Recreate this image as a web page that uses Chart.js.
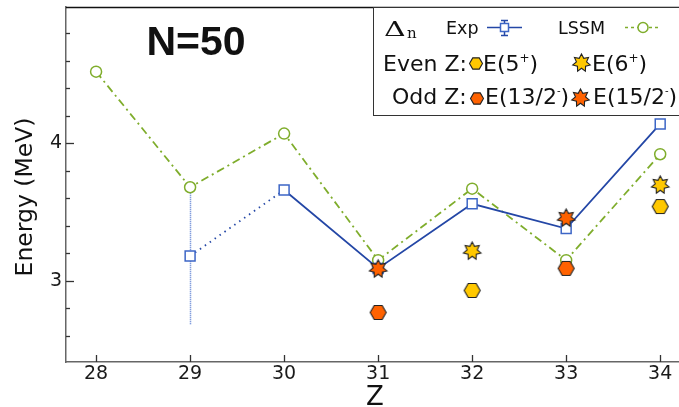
<!DOCTYPE html>
<html>
<head>
<meta charset="utf-8">
<script src="https://cdn.jsdelivr.net/npm/chart.js@4.4.1/dist/chart.umd.min.js"></script>
<style>
  html, body { margin: 0; padding: 0; background: #fff; }
  #wrap { width: 679px; height: 407px; }
</style>
</head>
<body>
<div id="wrap"><canvas id="chart" width="679" height="407"></canvas></div>
<script>
// N=50 isotones: shell gap and high-spin levels vs proton number
var zValues = [28, 29, 30, 31, 32, 33, 34];
var lssmGap = [4.52, 3.68, 4.07, 3.15, 3.67, 3.15, 3.92];
var expZ = [29, 30, 31, 32, 33, 34];
var expGap = [3.18, 3.66, 3.09, 3.56, 3.38, 4.14];
var expErr = [0.50, 0, 0, 0, 0, 0];
var evenZ = [32, 34];
var e5plus = [2.93, 3.54];
var e6plus = [3.22, 3.70];
var oddZ = [31, 33];
var e13half = [2.77, 3.09];
var e15half = [3.09, 3.46];
var yTickValues = [2.6, 2.8, 3.0, 3.2, 3.4, 3.6, 3.8, 4.0, 4.2, 4.4, 4.6, 4.8];

var GREEN = '#7fad2c';
var BLUE = '#2447a6';
var BLUE_MARK = '#3d66c6';
var GOLD = '#ffc800';
var ORANGE = '#ff6200';

function pairs(xs, ys) {
  return xs.map(function (x, i) { return { x: x, y: ys[i] }; });
}

// hexagon marker, flat top and bottom
function makeHexagon(fill, r) {
  var c = document.createElement('canvas');
  c.width = Math.ceil(2 * r + 3);
  c.height = Math.ceil(r * Math.sqrt(3) + 3);
  var g = c.getContext('2d');
  g.beginPath();
  for (var k = 0; k < 6; k++) {
    var a = k * Math.PI / 3;
    var px = c.width / 2 + r * Math.cos(a);
    var py = c.height / 2 + r * Math.sin(a);
    if (k) g.lineTo(px, py); else g.moveTo(px, py);
  }
  g.closePath();
  g.fillStyle = fill;
  g.fill();
  g.strokeStyle = '#222';
  g.lineWidth = 1.1;
  g.stroke();
  return c;
}

// seven pointed star marker
function makeStar(fill, ro, ri) {
  var c = document.createElement('canvas');
  c.width = c.height = Math.ceil(2 * ro + 3);
  var g = c.getContext('2d');
  var n = 7;
  g.beginPath();
  for (var k = 0; k < 2 * n; k++) {
    var a = -Math.PI / 2 + k * Math.PI / n;
    var rr = k % 2 ? ri : ro;
    var px = c.width / 2 + rr * Math.cos(a);
    var py = c.height / 2 + 0.5 + rr * Math.sin(a);
    if (k) g.lineTo(px, py); else g.moveTo(px, py);
  }
  g.closePath();
  g.fillStyle = fill;
  g.fill();
  g.strokeStyle = '#222';
  g.lineWidth = 1.1;
  g.stroke();
  return c;
}

var hexGold = makeHexagon(GOLD, 8);
var hexOrange = makeHexagon(ORANGE, 8);
var starGold = makeStar(GOLD, 9, 5.2);
var starOrange = makeStar(ORANGE, 9, 5.2);
var hexGoldSmall = makeHexagon(GOLD, 6.5);
var hexOrangeSmall = makeHexagon(ORANGE, 6.5);

// text with a raised piece in the middle, e.g. E(5+)
function supText(ctx, x, y, base, sup, tail, font, supFont, rise) {
  ctx.font = font;
  ctx.fillText(base, x, y);
  x += ctx.measureText(base).width;
  ctx.font = supFont;
  ctx.fillText(sup, x, y - rise);
  x += ctx.measureText(sup).width;
  ctx.font = font;
  ctx.fillText(tail, x, y);
}

function drawImg(ctx, img, x, y) {
  ctx.drawImage(img, Math.round(x - img.width / 2), Math.round(y - img.height / 2));
}

var decorPlugin = {
  id: 'decor',
  beforeDatasetsDraw: function (chart) {
    var ctx = chart.ctx, xs = chart.scales.x, ys = chart.scales.y;
    ctx.save();
    ctx.strokeStyle = '#5a7ed2';
    ctx.lineWidth = 1.5;
    ctx.setLineDash([1, 1]);
    expZ.forEach(function (z, i) {
      if (!expErr[i]) return;
      var px = Math.round(xs.getPixelForValue(z)) + 0.5;
      ctx.beginPath();
      ctx.moveTo(px, ys.getPixelForValue(expGap[i] + expErr[i]));
      ctx.lineTo(px, ys.getPixelForValue(expGap[i] - expErr[i]));
      ctx.stroke();
    });
    ctx.restore();
  },
  afterDraw: function (chart) {
    var ctx = chart.ctx, xs = chart.scales.x, ys = chart.scales.y;
    var area = chart.chartArea;
    ctx.save();

    // inward tick marks
    ctx.strokeStyle = '#333';
    ctx.lineWidth = 1.3;
    yTickValues.forEach(function (v) {
      var py = Math.round(ys.getPixelForValue(v)) + 0.5;
      var len = Math.abs(v - Math.round(v)) < 1e-6 ? 8 : 4;
      ctx.beginPath();
      ctx.moveTo(area.left, py);
      ctx.lineTo(area.left + len, py);
      ctx.stroke();
    });
    zValues.forEach(function (z) {
      var px = Math.round(xs.getPixelForValue(z)) + 0.5;
      ctx.beginPath();
      ctx.moveTo(px, area.bottom);
      ctx.lineTo(px, area.bottom - 7);
      ctx.stroke();
    });

    // top frame
    ctx.strokeStyle = '#111';
    ctx.lineWidth = 1.5;
    ctx.beginPath();
    ctx.moveTo(area.left, area.top + 0.5);
    ctx.lineTo(area.right, area.top + 0.5);
    ctx.stroke();

    // axis titles
    ctx.fillStyle = '#111';
    ctx.font = '23.5px "DejaVu Sans"';
    ctx.textAlign = 'center';
    ctx.textBaseline = 'alphabetic';
    ctx.save();
    ctx.translate(32, 197);
    ctx.rotate(-Math.PI / 2);
    ctx.fillText('Energy (MeV)', 0, 0);
    ctx.restore();
    ctx.font = '26px "DejaVu Sans"';
    ctx.fillText('Z', 375, 405);

    // panel label
    ctx.font = 'bold 41px "Liberation Sans"';
    ctx.fillText('N=50', 196, 55);

    // legend box
    ctx.textAlign = 'left';
    ctx.fillStyle = '#fff';
    ctx.fillRect(373, 7, 306, 108);
    ctx.strokeStyle = '#333';
    ctx.lineWidth = 1;
    ctx.strokeRect(373.5, 7.5, 310, 108);

    ctx.fillStyle = '#111';
    ctx.save();
    ctx.translate(384, 36);
    ctx.scale(1.5, 1);
    ctx.font = '20px "DejaVu Serif"';
    ctx.fillText('\u0394', 0, 0);
    ctx.restore();
    ctx.font = '15px "DejaVu Serif"';
    ctx.fillText('n', 407, 38);

    ctx.font = '17.5px "DejaVu Sans"';
    ctx.fillText('Exp', 446, 33.5);
    ctx.fillText('LSSM', 558, 33.5);

    // Exp key: line, error bar, square
    ctx.strokeStyle = BLUE;
    ctx.lineWidth = 1.5;
    ctx.beginPath();
    ctx.moveTo(487, 27.5); ctx.lineTo(522, 27.5);
    ctx.moveTo(504.5, 20); ctx.lineTo(504.5, 36);
    ctx.moveTo(501, 20.5); ctx.lineTo(508, 20.5);
    ctx.moveTo(501, 35.5); ctx.lineTo(508, 35.5);
    ctx.stroke();
    ctx.fillStyle = '#fff';
    ctx.fillRect(500, 23, 9, 9);
    ctx.strokeStyle = BLUE_MARK;
    ctx.strokeRect(500.5, 23.5, 8, 8);

    // LSSM key
    ctx.strokeStyle = GREEN;
    ctx.lineWidth = 1.5;
    ctx.setLineDash([3, 3]);
    ctx.beginPath();
    ctx.moveTo(625, 27.5); ctx.lineTo(660, 27.5);
    ctx.stroke();
    ctx.setLineDash([]);
    ctx.beginPath();
    ctx.arc(643, 27.5, 5, 0, Math.PI * 2);
    ctx.fillStyle = '#fff';
    ctx.fill();
    ctx.stroke();

    ctx.fillStyle = '#111';
    var f = '22px "DejaVu Sans"', fs = '12px "DejaVu Sans"', fm = '10px "DejaVu Sans"';
    ctx.font = f;
    ctx.fillText('Even Z:', 383, 70.5);
    drawImg(ctx, hexGoldSmall, 476, 63);
    supText(ctx, 483, 70.5, 'E(5', '+', ')', f, fs, 9);
    drawImg(ctx, starGold, 581, 62);
    supText(ctx, 592, 70.5, 'E(6', '+', ')', f, fs, 9);

    ctx.font = f;
    ctx.fillText('Odd Z:', 392, 103.5);
    drawImg(ctx, hexOrangeSmall, 477, 98);
    supText(ctx, 485, 103.5, 'E(13/2', '-', ')', f, fm, 10);
    drawImg(ctx, starOrange, 580, 97);
    supText(ctx, 593, 103.5, 'E(15/2', '-', ')', f, fm, 10);

    ctx.restore();
  }
};

new Chart(document.getElementById('chart'), {
  type: 'line',
  data: {
    datasets: [
      {
        label: 'E(15/2-)', data: pairs(oddZ, e15half), showLine: false,
        pointStyle: starOrange, pointRadius: 9, order: 0, clip: false
      },
      {
        label: 'E(13/2-)', data: pairs(oddZ, e13half), showLine: false,
        pointStyle: hexOrange, pointRadius: 8, order: 0, clip: false
      },
      {
        label: 'E(6+)', data: pairs(evenZ, e6plus), showLine: false,
        pointStyle: starGold, pointRadius: 9, order: 0, clip: false
      },
      {
        label: 'E(5+)', data: pairs(evenZ, e5plus), showLine: false,
        pointStyle: hexGold, pointRadius: 8, order: 0, clip: false
      },
      {
        label: 'Exp', data: pairs(expZ, expGap), order: 1, clip: false,
        borderColor: BLUE, borderWidth: 1.8, tension: 0,
        segment: {
          borderDash: function (c) { return c.p0DataIndex === 0 ? [1.5, 4.5] : undefined; }
        },
        pointStyle: 'rect', pointRadius: 7, pointBorderWidth: 1.5,
        pointBackgroundColor: '#fff', pointBorderColor: BLUE_MARK
      },
      {
        label: 'LSSM', data: pairs(zValues, lssmGap), order: 2, clip: false,
        borderColor: GREEN, borderWidth: 1.8, borderDash: [8, 4, 2, 4], tension: 0,
        pointStyle: 'circle', pointRadius: 5.5, pointBorderWidth: 1.5,
        pointBackgroundColor: '#fff', pointBorderColor: GREEN
      }
    ]
  },
  options: {
    responsive: false,
    animation: false,
    devicePixelRatio: 1,
    layout: { autoPadding: false, padding: { top: 7, right: 0, left: 0, bottom: 0 } },
    plugins: { legend: { display: false }, tooltip: { enabled: false } },
    scales: {
      x: {
        type: 'linear', min: 27.68, max: 34.2,
        afterBuildTicks: function (s) { s.ticks = zValues.map(function (v) { return { value: v }; }); },
        afterFit: function (s) { s.height = 45; s.paddingLeft = 0; s.paddingRight = 0; },
        ticks: {
          color: '#1a1a1a', padding: 1, maxRotation: 0, autoSkip: false,
          font: { family: 'DejaVu Sans', size: 19 }
        },
        grid: { drawOnChartArea: false, drawTicks: false },
        border: { color: '#666', width: 1.5 }
      },
      y: {
        type: 'linear', min: 2.41, max: 4.99,
        afterBuildTicks: function (s) { s.ticks = yTickValues.map(function (v) { return { value: v }; }); },
        afterFit: function (s) { s.width = 66; s.paddingTop = 0; s.paddingBottom = 0; },
        ticks: {
          color: '#1a1a1a', padding: 4, autoSkip: false,
          font: { family: 'DejaVu Sans', size: 19 },
          callback: function (v) {
            return Math.abs(v - Math.round(v)) < 1e-6 ? String(Math.round(v)) : '';
          }
        },
        grid: { drawOnChartArea: false, drawTicks: false },
        border: { color: '#666', width: 1.5 }
      }
    }
  },
  plugins: [decorPlugin]
});
</script>
</body>
</html>
